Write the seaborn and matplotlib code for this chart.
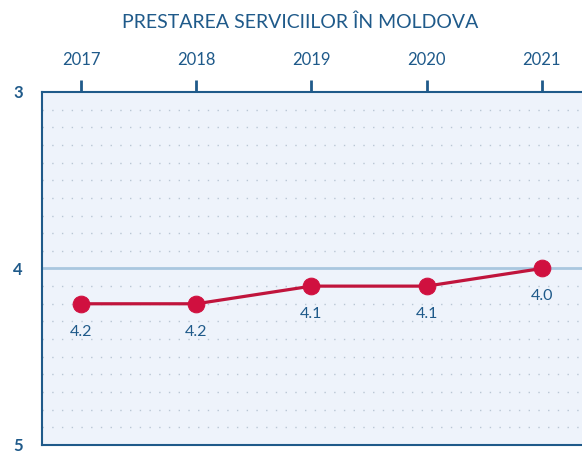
import seaborn as sns
import pandas as pd
import numpy as np
import matplotlib.pyplot as plt
from matplotlib.ticker import MultipleLocator

years = [2017, 2018, 2019, 2020, 2021]
scores = [4.2, 4.2, 4.1, 4.1, 4.0]
labels = ['4.2', '4.2', '4.1', '4.1', '4.0']

df = pd.DataFrame({'Year': years, 'Score': scores})

sns.set_theme(style='white')
plt.rcParams['font.family'] = ['Lato', 'DejaVu Sans']

navy = '#1f5a8a'
red = '#d0103f'

fig = plt.figure(figsize=(5.82, 4.53), dpi=100)
fig.patch.set_edgecolor('none')
fig.patch.set_linewidth(0)
# axes run past the right edge, as in the original crop
ax = fig.add_axes([0.0722, 0.0177, 0.9794, 0.7793])
ax.set_facecolor('#eef3fb')
ax.patch.set_edgecolor('none')
ax.patch.set_linewidth(0)

# dotted minor grid every 0.1
ax.yaxis.set_minor_locator(MultipleLocator(0.1))
ax.grid(which='minor', axis='y', color='#b9c6d4', linestyle=(0, (1, 6)), linewidth=1.0)
ax.axhline(4, color='#a9c7df', linewidth=2, zorder=1)

sns.lineplot(data=df, x='Year', y='Score', ax=ax, color='#c0143c', linewidth=2.3,
             marker='o', markersize=12, markerfacecolor=red, markeredgecolor=red, zorder=3)

for yr, val, lab in zip(years, scores, labels):
    ax.annotate(lab, (yr, val), xytext=(0, -20), textcoords='offset points',
                ha='center', va='center', fontsize=11.5, color=navy)

ax.set_xlim(2016.66, 2021.61)
ax.set_ylim(5, 3)
ax.set_xticks(years)
ax.set_yticks([3, 4, 5])
ax.set_yticklabels(['3', '4', '5'], fontweight='bold')
ax.xaxis.tick_top()
ax.tick_params(axis='x', which='major', direction='out', length=9, width=2, color=navy,
               labelsize=12, labelcolor=navy, pad=8)
ax.tick_params(axis='y', which='major', direction='out', length=10, width=1.5, color=navy,
               labelsize=12, labelcolor=navy, pad=4)
ax.tick_params(axis='y', which='minor', length=0)
ax.set_xlabel('')
ax.set_ylabel('')

for side in ['left', 'top', 'bottom']:
    ax.spines[side].set_color(navy)
    ax.spines[side].set_linewidth(1.5)
ax.spines['right'].set_visible(False)

fig.text(0.515, 0.951, 'PRESTAREA SERVICIILOR ÎN MOLDOVA', ha='center', va='center',
         fontsize=14, color=navy)

plt.savefig('out.png', dpi=100)
